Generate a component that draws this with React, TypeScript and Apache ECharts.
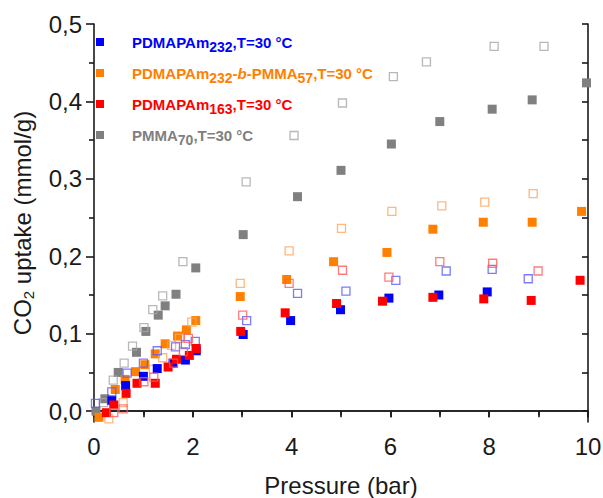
import React, { useEffect, useRef } from "react";
import * as echarts from "echarts";

// Pressure (bar), CO2 uptake (mmol/g)
const grayAds: number[][] = [
  [0.04, 0.0], [0.22, 0.016], [0.49, 0.05], [0.86, 0.076], [1.05, 0.103], [1.3, 0.124], [1.44, 0.136],
  [1.66, 0.151], [2.06, 0.185], [3.02, 0.228], [4.12, 0.277], [5.0, 0.311], [6.02, 0.345], [7.0, 0.374],
  [8.06, 0.39], [8.87, 0.402], [9.97, 0.424],
];
const grayDes: number[][] = [
  [0.19, 0.011], [0.39, 0.04], [0.61, 0.062], [0.78, 0.084], [1.01, 0.108], [1.19, 0.131], [1.39, 0.149],
  [1.8, 0.193], [3.08, 0.296], [4.05, 0.356], [5.03, 0.398], [6.06, 0.432], [6.73, 0.451], [8.1, 0.471],
  [9.11, 0.471],
];
const orangeAds: number[][] = [
  [0.1, -0.008], [0.43, 0.028], [0.63, 0.041], [0.84, 0.051], [1.03, 0.06], [1.24, 0.074], [1.44, 0.087],
  [1.69, 0.097], [1.87, 0.105], [2.06, 0.117], [2.96, 0.148], [3.9, 0.17], [4.85, 0.193], [5.93, 0.205],
  [6.86, 0.235], [7.88, 0.244], [8.87, 0.244], [9.87, 0.258],
];
const orangeDes: number[][] = [
  [0.3, -0.01], [0.59, 0.011], [1.2, 0.054], [1.39, 0.069], [1.57, 0.085], [1.73, 0.094], [1.98, 0.115],
  [2.96, 0.165], [3.95, 0.207], [5.01, 0.236], [6.03, 0.258], [7.04, 0.265], [7.91, 0.27], [8.89, 0.281],
];
const blueAds: number[][] = [
  [0.36, 0.014], [0.64, 0.033], [1.0, 0.045], [1.28, 0.055], [1.6, 0.062], [1.85, 0.066], [2.07, 0.078],
  [3.02, 0.099], [3.98, 0.117], [4.99, 0.131], [5.97, 0.146], [6.98, 0.15], [7.96, 0.154],
];
const blueDes: number[][] = [
  [0.03, 0.01], [0.36, 0.025], [0.67, 0.049], [1.0, 0.062], [1.28, 0.078], [1.65, 0.083], [1.85, 0.086],
  [2.05, 0.09], [3.09, 0.117], [4.12, 0.152], [5.1, 0.155], [6.11, 0.169], [7.13, 0.181], [8.06, 0.183],
  [8.79, 0.171],
];
const redAds: number[][] = [
  [0.25, -0.002], [0.4, 0.008], [0.65, 0.023], [0.87, 0.036], [1.24, 0.036], [1.5, 0.057], [1.67, 0.067],
  [1.93, 0.072], [2.07, 0.081], [2.97, 0.103], [3.87, 0.127], [4.91, 0.139], [5.84, 0.142], [6.86, 0.147],
  [7.89, 0.145], [8.85, 0.143], [9.84, 0.169],
];
const redDes: number[][] = [
  [0.4, -0.002], [0.59, 0.003], [1.01, 0.038], [1.21, 0.044], [1.61, 0.062], [1.81, 0.077], [1.91, 0.094],
  [3.01, 0.124], [3.95, 0.165], [5.03, 0.182], [5.97, 0.173], [7.0, 0.193], [8.07, 0.191], [8.99, 0.181],
];

const yMajor = [0, 0.1, 0.2, 0.3, 0.4, 0.5];
const yMinor = [0.05, 0.15, 0.25, 0.35, 0.45];
const yAll = [0, 0.05, 0.1, 0.15, 0.2, 0.25, 0.3, 0.35, 0.4, 0.45, 0.5];

const FONT = "'Liberation Sans', Arial, sans-serif";
const AX = "#1a1a1a";

export default function App() {
  const ref = useRef<HTMLDivElement>(null);
  useEffect(() => {
    if (!ref.current) return;
    const chart = echarts.init(ref.current, null, { renderer: "svg" });
    const yMin = -0.014;
    const yMax = 0.5;
    const line = { color: AX, width: 1.6 };
    const filled = (name: string, data: number[][], color: string) => ({
      type: "scatter", name, data, symbol: "rect", symbolSize: 9, clip: false,
      itemStyle: { color, opacity: 1 },
    });
    const open = (name: string, data: number[][], color: string) => ({
      type: "scatter", name, data, symbol: "rect", symbolSize: 8, clip: false,
      itemStyle: { color: "rgba(255,255,255,0)", borderColor: color, borderWidth: 1.3 },
    });
    const legendRow = (y: number, color: string, text: string) => [
      { type: "rect", shape: { x: 96, y: y - 4, width: 8, height: 8 }, style: { fill: color } },
      {
        type: "text", x: 132, y,
        style: {
          text, fill: color, verticalAlign: "middle",
          rich: {
            m: { fontSize: 15, fontWeight: "bold", fontFamily: FONT, fill: color, color },
            i: { fontSize: 15, fontWeight: "bold", fontStyle: "italic", fontFamily: FONT, fill: color, color },
            s: { fontSize: 14, fontWeight: "bold", fontFamily: FONT, fill: color, color, padding: [9, 0, 0, 0] },
          },
        },
      },
    ];
    chart.setOption({
      animation: false,
      backgroundColor: "#fff",
      grid: { left: 94, right: 15, top: 24, bottom: 76, outerBoundsMode: "none", containLabel: false },
      xAxis: [
        {
          type: "value", min: 0, max: 10, interval: 2, position: "bottom",
          axisLine: { show: true, lineStyle: line },
          axisTick: { show: true, length: 6, lineStyle: line },
          minorTick: { show: true, splitNumber: 2, length: 4, lineStyle: line },
          axisLabel: { fontSize: 24, fontFamily: FONT, color: AX, margin: 12 },
          splitLine: { show: false }, minorSplitLine: { show: false },
          name: "Pressure (bar)", nameLocation: "middle", nameGap: 51,
          nameTextStyle: { fontSize: 24, fontFamily: FONT, color: AX },
        },
        {
          type: "value", min: 0, max: 10, interval: 1, position: "top",
          axisLine: { show: true, lineStyle: line },
          axisTick: { show: true, inside: true, length: 6, lineStyle: line },
          axisLabel: { show: false }, splitLine: { show: false },
        },
      ],
      yAxis: [
        {
          type: "value", min: yMin, max: yMax, position: "left",
          axisLine: { show: true, lineStyle: line },
          axisTick: { show: true, length: 8, customValues: yMajor, lineStyle: line },
          axisLabel: {
            customValues: yMajor, fontSize: 24, fontFamily: FONT, color: AX, margin: 12,
            formatter: (v: number) => v.toFixed(1).replace(".", ","),
          },
          splitLine: { show: false },
          name: "{a|CO}{b|2}{a| uptake (mmol/g)}", nameLocation: "middle", nameGap: 58,
          nameTextStyle: {
            fontSize: 24, fontFamily: FONT, color: AX,
            rich: {
              a: { fontSize: 24, fontFamily: FONT, color: AX },
              b: { fontSize: 15, fontFamily: FONT, color: AX, padding: [12, 0, 0, 0] },
            },
          },
        },
        {
          type: "value", min: yMin, max: yMax, position: "left",
          axisLine: { show: false },
          axisTick: { show: true, length: 5, customValues: yMinor, lineStyle: line },
          axisLabel: { show: false }, splitLine: { show: false },
        },
        {
          type: "value", min: yMin, max: yMax, position: "right",
          axisLine: { show: true, lineStyle: line },
          axisTick: { show: true, inside: true, length: 6, customValues: yAll, lineStyle: line },
          axisLabel: { show: false }, splitLine: { show: false },
        },
      ],
      series: [
        filled("PMMA70 ads", grayAds, "#808080"),
        open("PMMA70 des", grayDes, "#a6a6a6"),
        filled("PDMAPAm232-b-PMMA57 ads", orangeAds, "#ff8000"),
        open("PDMAPAm232-b-PMMA57 des", orangeDes, "#ffa55a"),
        filled("PDMAPAm232 ads", blueAds, "#0000ff"),
        open("PDMAPAm232 des", blueDes, "#5a5aff"),
        filled("PDMAPAm163 ads", redAds, "#ff0000"),
        open("PDMAPAm163 des", redDes, "#ff5a5a"),
      ],
      graphic: [
        ...legendRow(42, "#0000ff", "{m|PDMAPAm}{s|232}{m|,T=30 °C}"),
        ...legendRow(73, "#ff8000", "{m|PDMAPAm}{s|232}{m|-}{i|b}{m|-PMMA}{s|57}{m|,T=30 °C}"),
        ...legendRow(104, "#ff0000", "{m|PDMAPAm}{s|163}{m|,T=30 °C}"),
        ...legendRow(135, "#808080", "{m|PMMA}{s|70}{m|,T=30 °C}"),
      ],
    });
    return () => chart.dispose();
  }, []);
  return (
    <div
      ref={ref}
      style={{ position: "absolute", left: 0, top: 0, width: 603, height: 498 }}
    />
  );
}
